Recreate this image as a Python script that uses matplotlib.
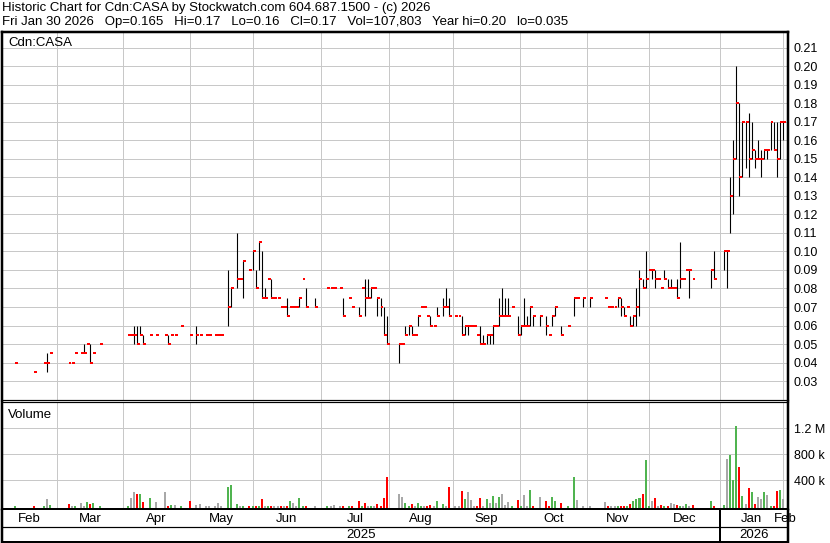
import matplotlib
matplotlib.use('Agg')
import matplotlib.pyplot as plt

plt.rcParams['font.family'] = ['Liberation Sans', 'DejaVu Sans']

# trading-day slot of each traded session (0 = first slot of the chart)
days = [4, 10, 13, 14, 15, 21, 22, 23, 25, 26, 27, 28, 29, 31,
        40, 41, 42, 43, 44, 45, 47, 49, 52, 53, 54, 55, 57,
        60, 62, 63, 65, 66, 68, 69, 70, 72, 73, 75, 76, 77, 79,
        80, 81, 82, 83, 84, 85, 86, 87, 88, 89, 90, 91, 92, 93, 94, 95, 96, 97,
        100, 104, 105, 106, 108, 109, 111, 112, 114, 115, 116, 117, 118, 119,
        120, 121, 122, 123, 127, 128, 129, 130, 131, 132, 133, 134, 135, 136, 137, 138, 139,
        141, 142, 143, 145, 146, 147, 148, 149, 150, 151, 152, 153, 154, 155, 156, 157, 158, 159,
        160, 161, 162, 163, 165, 166, 167, 168, 169, 170, 172, 174, 175, 176, 177, 179,
        181, 183, 184, 186, 188, 193, 194, 195, 196, 197, 198, 199,
        200, 201, 202, 203, 204, 205, 206, 207, 208, 209, 210, 211, 212, 213, 214, 215, 216, 217, 218, 219,
        220, 221, 227, 228, 231, 232, 233, 234, 235, 236, 237, 238, 239,
        240, 241, 242, 243, 244, 245, 246, 247, 248, 249, 250]

highs = [0.04, 0.035, 0.04, 0.045, 0.045, 0.04, 0.04, 0.045, 0.045, 0.05, 0.05, 0.05, 0.045, 0.05,
         0.055, 0.055, 0.06, 0.06, 0.06, 0.055, 0.055, 0.055, 0.055, 0.055, 0.055, 0.055, 0.06,
         0.055, 0.06, 0.055, 0.055, 0.055, 0.055, 0.055, 0.055, 0.09, 0.08, 0.11, 0.085, 0.095, 0.09,
         0.10, 0.09, 0.105, 0.10, 0.08, 0.085, 0.085, 0.075, 0.075, 0.07, 0.07, 0.075, 0.07, 0.07, 0.07, 0.075, 0.085, 0.08,
         0.075, 0.08, 0.08, 0.08, 0.08, 0.075, 0.075, 0.07, 0.07, 0.08, 0.085, 0.085, 0.08, 0.08,
         0.075, 0.075, 0.07, 0.065, 0.05, 0.05, 0.06, 0.06, 0.06, 0.055, 0.065, 0.07, 0.07, 0.065, 0.065, 0.06, 0.07,
         0.075, 0.08, 0.075, 0.065, 0.065, 0.065, 0.06, 0.06, 0.06, 0.06, 0.055, 0.06, 0.055, 0.055, 0.055, 0.06, 0.06, 0.075,
         0.08, 0.075, 0.075, 0.07, 0.065, 0.06, 0.075, 0.065, 0.07, 0.065, 0.065, 0.065, 0.055, 0.065, 0.07, 0.06,
         0.06, 0.075, 0.075, 0.075, 0.075, 0.075, 0.07, 0.07, 0.07, 0.075, 0.075, 0.07,
         0.07, 0.065, 0.065, 0.08, 0.09, 0.085, 0.10, 0.09, 0.09, 0.09, 0.085, 0.08, 0.09, 0.085, 0.085, 0.08, 0.085, 0.105, 0.085, 0.09,
         0.09, 0.085, 0.09, 0.10, 0.10, 0.10, 0.14, 0.16, 0.20, 0.18, 0.17, 0.17, 0.175,
         0.17, 0.155, 0.16, 0.155, 0.155, 0.155, 0.17, 0.17, 0.17, 0.17, 0.17]

lows = [0.04, 0.035, 0.04, 0.035, 0.045, 0.04, 0.04, 0.045, 0.045, 0.045, 0.05, 0.04, 0.045, 0.05,
        0.055, 0.055, 0.05, 0.05, 0.055, 0.05, 0.055, 0.055, 0.055, 0.05, 0.055, 0.055, 0.06,
        0.055, 0.05, 0.055, 0.055, 0.055, 0.055, 0.055, 0.055, 0.06, 0.07, 0.08, 0.085, 0.075, 0.09,
        0.09, 0.08, 0.09, 0.075, 0.075, 0.085, 0.075, 0.075, 0.075, 0.07, 0.07, 0.065, 0.07, 0.07, 0.07, 0.07, 0.085, 0.07,
        0.07, 0.08, 0.08, 0.08, 0.08, 0.065, 0.075, 0.07, 0.065, 0.08, 0.065, 0.075, 0.075, 0.08,
        0.065, 0.065, 0.055, 0.05, 0.04, 0.05, 0.055, 0.055, 0.055, 0.055, 0.06, 0.07, 0.07, 0.065, 0.06, 0.06, 0.065,
        0.065, 0.07, 0.065, 0.065, 0.065, 0.055, 0.055, 0.055, 0.06, 0.06, 0.055, 0.05, 0.05, 0.05, 0.05, 0.05, 0.06, 0.06,
        0.065, 0.065, 0.065, 0.07, 0.055, 0.055, 0.06, 0.06, 0.06, 0.06, 0.06, 0.055, 0.055, 0.06, 0.065, 0.055,
        0.06, 0.065, 0.075, 0.07, 0.07, 0.075, 0.07, 0.07, 0.07, 0.07, 0.065, 0.065,
        0.07, 0.06, 0.06, 0.06, 0.065, 0.08, 0.08, 0.09, 0.085, 0.08, 0.085, 0.08, 0.085, 0.08, 0.08, 0.08, 0.075, 0.08, 0.085, 0.09,
        0.075, 0.085, 0.08, 0.085, 0.09, 0.08, 0.11, 0.12, 0.15, 0.13, 0.14, 0.145, 0.14,
        0.15, 0.145, 0.15, 0.14, 0.15, 0.15, 0.155, 0.155, 0.14, 0.15, 0.16]

closes = [0.04, 0.035, 0.04, 0.04, 0.045, 0.04, 0.04, 0.045, 0.045, 0.045, 0.05, 0.04, 0.045, 0.05,
          0.055, 0.055, 0.055, 0.05, 0.055, 0.05, 0.055, 0.055, 0.055, 0.05, 0.055, 0.055, 0.06,
          0.055, 0.055, 0.055, 0.055, 0.055, 0.055, 0.055, 0.055, 0.07, 0.08, 0.085, 0.085, 0.095, 0.09,
          0.10, 0.08, 0.105, 0.075, 0.075, 0.085, 0.075, 0.075, 0.075, 0.07, 0.07, 0.065, 0.07, 0.07, 0.07, 0.075, 0.085, 0.07,
          0.07, 0.08, 0.08, 0.08, 0.08, 0.065, 0.075, 0.07, 0.065, 0.08, 0.075, 0.075, 0.08, 0.08,
          0.075, 0.07, 0.055, 0.05, 0.05, 0.05, 0.055, 0.06, 0.055, 0.055, 0.065, 0.07, 0.07, 0.065, 0.06, 0.06, 0.065,
          0.07, 0.07, 0.065, 0.065, 0.065, 0.055, 0.06, 0.06, 0.06, 0.06, 0.055, 0.05, 0.05, 0.055, 0.055, 0.06, 0.06, 0.065,
          0.065, 0.065, 0.065, 0.07, 0.055, 0.06, 0.06, 0.06, 0.07, 0.065, 0.065, 0.06, 0.055, 0.065, 0.07, 0.055,
          0.06, 0.075, 0.075, 0.075, 0.075, 0.075, 0.07, 0.07, 0.07, 0.075, 0.07, 0.065,
          0.07, 0.06, 0.065, 0.07, 0.085, 0.08, 0.085, 0.09, 0.09, 0.085, 0.085, 0.08, 0.085, 0.08, 0.08, 0.08, 0.075, 0.085, 0.085, 0.09,
          0.09, 0.085, 0.09, 0.085, 0.10, 0.10, 0.13, 0.15, 0.18, 0.14, 0.17, 0.17, 0.15,
          0.155, 0.15, 0.15, 0.15, 0.155, 0.155, 0.17, 0.155, 0.15, 0.17, 0.17]

volumes = [8000, 10000, 10000, 113000, 26000, 36000, 10000, 5000, 56000, 5000, 67000, 36000, 51000, 10000,
           8000, 128000, 220000, 190000, 190000, 67000, 128000, 67000, 220000, 8000, 20000, 26000, 12000,
           82000, 26000, 36000, 6000, 6000, 10000, 51000, 10000, 297000, 328000, 36000, 10000, 10000, 6000,
           10000, 10000, 10000, 113000, 5000, 8000, 8000, 6000, 5000, 5000, 10000, 5000, 82000, 51000, 5000, 128000, 5000, 10000,
           10000, 6000, 5000, 26000, 5000, 10000, 5000, 5000, 82000, 10000, 51000, 5000, 10000, 5000,
           36000, 5000, 128000, 451000, 190000, 144000, 51000, 5000, 36000, 10000, 51000, 5000, 5000, 5000, 26000, 5000, 82000,
           36000, 5000, 297000, 10000, 10000, 236000, 113000, 220000, 97000, 5000, 5000, 128000, 5000, 113000, 51000, 159000, 51000, 144000,
           190000, 26000, 67000, 5000, 97000, 10000, 174000, 5000, 251000, 10000, 144000, 82000, 5000, 144000, 82000, 51000,
           5000, 451000, 97000, 5000, 5000, 67000, 5000, 5000, 10000, 10000, 5000, 10000,
           5000, 36000, 82000, 113000, 128000, 190000, 713000, 5000, 82000, 128000, 10000, 20000, 10000, 10000, 51000, 36000, 20000, 10000, 10000, 36000,
           10000, 20000, 82000, 10000, 20000, 728000, 790000, 405000, 1236000, 605000, 159000, 36000, 282000,
           220000, 36000, 144000, 113000, 220000, 174000, 8000, 10000, 236000, 251000, 107803]

prev_close = 0.035

month_names = ['Feb', 'Mar', 'Apr', 'May', 'Jun', 'Jul', 'Aug', 'Sep', 'Oct', 'Nov', 'Dec', 'Jan', 'Feb']
month_starts = [17.2, 38.6, 59.9, 80.2, 101.8, 123.8, 144.3, 165.7, 187.1, 207.1, 229.8, 249.9]
years = ['2025', '2026']

price_ticks = [round(0.03 + 0.01 * k, 2) for k in range(19)]
vol_ticks = [400000, 800000, 1200000, 1600000]
vol_labels = ['400 k', '800 k', '1.2 M', '']

title1 = 'Historic Chart for Cdn:CASA by Stockwatch.com 604.687.1500 - (c) 2026'
title2 = 'Fri Jan 30 2026   Op=0.165   Hi=0.17   Lo=0.16   Cl=0.17   Vol=107,803   Year hi=0.20   lo=0.035'

W, H = 830, 543
PX = 72 / 100  # one pixel in points

GRID = '#c8c8c8'
GREEN = '#50b450'
RED = '#ff0000'
GREY = '#a8a8a8'


def box(x0, y0, x1, y1):
    return [x0 / W, 1 - y1 / H, (x1 - x0) / W, (y1 - y0) / H]


fig = plt.figure(figsize=(W / 100, H / 100), dpi=100)
xmin, xmax = -0.32, 251.6

ax = fig.add_axes(box(2, 31.5, 788, 399.7))
axv = fig.add_axes(box(2, 401.7, 788, 509.3))
axm = fig.add_axes(box(2, 510, 788, 541.5))

# ---- price panel
ax.set_xlim(xmin, xmax)
ax.set_ylim(0.0199, 0.2189)
for p in price_ticks:
    ax.axhline(p, color=GRID, lw=PX, zorder=0)
for m in month_starts:
    ax.axvline(m, color=GRID, lw=PX, zorder=0)

rng = [(d, l, h) for d, l, h in zip(days, lows, highs) if h > l]
ax.vlines([r[0] for r in rng], [r[1] for r in rng], [r[2] for r in rng],
          color='black', lw=1.1 * PX, zorder=2)
ax.hlines(closes, [d for d in days], [d + 0.95 for d in days],
          color=RED, lw=2 * PX, zorder=3)

ax.yaxis.tick_right()
ax.set_yticks(price_ticks)
ax.set_yticklabels(['%.2f' % p for p in price_ticks])
ax.tick_params(axis='y', length=0, pad=4, labelsize=9)
ax.set_xticks([])
ax.text(0.008, 0.985, 'Cdn:CASA', transform=ax.transAxes, fontsize=9.5, va='top', ha='left')

# ---- volume panel
axv.set_xlim(xmin, xmax)
vmin = -46000
axv.set_ylim(vmin, 1609000)
for v in vol_ticks:
    axv.axhline(v, color=GRID, lw=PX, zorder=0)
for m in month_starts:
    axv.axvline(m, color=GRID, lw=PX, zorder=0)

colors = []
last = prev_close
for c in closes:
    if c > last + 1e-9:
        colors.append(GREEN)
    elif c < last - 1e-9:
        colors.append(RED)
    else:
        colors.append(GREY)
    last = c
axv.bar(days, [v - vmin for v in volumes], bottom=vmin, width=0.65,
        color=colors, linewidth=0, zorder=2)
axv.yaxis.tick_right()
axv.set_yticks(vol_ticks)
axv.set_yticklabels(vol_labels)
axv.tick_params(axis='y', length=0, pad=4, labelsize=9)
axv.set_xticks([])
axv.text(0.008, 0.93, 'Volume', transform=axv.transAxes, fontsize=9.5, va='top', ha='left')

# ---- month / year rows
axm.set_xlim(xmin, xmax)
axm.set_ylim(0, 1)
axm.set_xticks([])
axm.set_yticks([])
bounds = [xmin] + month_starts
for i, name in enumerate(month_names[:-1]):
    axm.text((bounds[i] + bounds[i + 1]) / 2, 0.71, name, ha='center', va='center', fontsize=9.5)
axm.text(250.6, 0.71, month_names[-1], ha='center', va='center', fontsize=9.5, clip_on=False)
axm.axhline(0.46, color='black', lw=1.2 * PX)
axm.axvline(month_starts[10], color='black', lw=2 * PX)
axm.text((xmin + month_starts[10]) / 2, 0.22, years[0], ha='center', va='center', fontsize=9.5)
axm.text((month_starts[10] + xmax) / 2, 0.22, years[1], ha='center', va='center', fontsize=9.5)

# ---- frame lines
for a in (ax, axv, axm):
    for s in a.spines.values():
        s.set_color('black')
    a.spines['left'].set_linewidth(2.5 * PX)
    a.spines['right'].set_linewidth(2.5 * PX)
ax.spines['top'].set_linewidth(2.5 * PX)
ax.spines['bottom'].set_linewidth(1.2 * PX)
axv.spines['top'].set_linewidth(1.2 * PX)
axv.spines['bottom'].set_linewidth(2 * PX)
axm.spines['top'].set_visible(False)
axm.spines['bottom'].set_linewidth(2 * PX)

fig.text(2 / W, 1 - 7.5 / H, title1, fontsize=9.5, ha='left', va='center')
fig.text(2 / W, 1 - 22 / H, title2, fontsize=9.5, ha='left', va='center')

fig.savefig('out.png', dpi=100)
